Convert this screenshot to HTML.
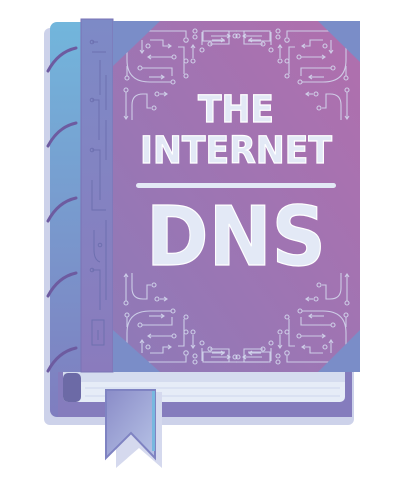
<!DOCTYPE html>
<html><head><style>html,body{margin:0;padding:0;background:#fff;}svg{display:block}</style></head>
<body>
<svg width="400" height="494" viewBox="0 0 400 494" xmlns="http://www.w3.org/2000/svg">
<defs>
<linearGradient id="cov" x1="1" y1="0" x2="0" y2="1">
<stop offset="0" stop-color="#b16fad"/><stop offset="1" stop-color="#8d7ab8"/></linearGradient>
<linearGradient id="back" x1="0" y1="0" x2="0" y2="1">
<stop offset="0" stop-color="#72b6dc"/><stop offset="1" stop-color="#7f7dbf"/></linearGradient>
<linearGradient id="spine" x1="0" y1="0" x2="0" y2="1">
<stop offset="0" stop-color="#7d8ac6"/><stop offset="1" stop-color="#8a7bbd"/></linearGradient>
<linearGradient id="bm" x1="0" y1="0" x2="1" y2="1">
<stop offset="0" stop-color="#8a8cc8"/><stop offset="1" stop-color="#b7c3e6"/></linearGradient>
<g id="circ" fill="none" stroke="#d6dcf0" stroke-width="1.1" opacity="0.85">
<path d="M128 31 H186 V37"/><circle cx="186" cy="40" r="2.2"/>
<path d="M150 40 H163 V46 H170"/><path d="M168 44 l3 2 -3 2"/>
<circle cx="148" cy="46" r="2"/><path d="M142 40 V52"/><path d="M140 50 l2 3 2 -3"/>
<path d="M149 57 H172"/><path d="M151 55 l-3 2 3 2"/><circle cx="174" cy="57" r="2"/>
<path d="M178 47 H184 V74"/><circle cx="186" cy="76" r="2"/>
<circle cx="186" cy="61" r="2"/><circle cx="193" cy="61" r="2"/><path d="M193 58 V45"/><path d="M191 48 l2 -3 2 3"/>
<circle cx="140" cy="68" r="2"/><path d="M142 68 H172 V76"/>
<path d="M127 45 V60 Q127 82 150 82 H171"/><circle cx="173" cy="82" r="2"/>
<path d="M149 77 H163"/><path d="M161 75 l3 2 -3 2"/>
<path d="M127 66 V76"/><circle cx="127" cy="78" r="2"/>
<path d="M126 92 V118"/><circle cx="126" cy="90" r="2"/><path d="M124 116 l2 3 2 -3"/>
<path d="M132 120 V105 Q132 94 143 94 H147 V108 H151"/><circle cx="154" cy="108" r="2"/>
<circle cx="157" cy="94" r="2"/><path d="M160 94 H166"/><path d="M164 92 l3 2 -3 2"/>
<path d="M202 32 V45"/><circle cx="202" cy="50" r="2"/>
<path d="M205 31 H229 V44 H210"/><path d="M212 40 H223"/><path d="M221 38 l3 2 -3 2"/><circle cx="210" cy="44" r="2"/>
<path d="M236 31 H270 V41 H248"/><circle cx="238" cy="36" r="2"/><path d="M244 36 H262"/><path d="M246 34 l-3 2 3 2"/>
<circle cx="278" cy="31" r="2"/><circle cx="278" cy="37" r="2"/>
</g>
</defs>
<!-- back shadow -->
<rect x="44" y="28" width="310" height="397" rx="6" fill="#cdd2ea"/>
<!-- back cover -->
<rect x="50" y="22" width="302" height="395" rx="7" fill="url(#back)"/>
<rect x="58" y="372" width="294" height="45" fill="#857cbd"/>
<!-- pages -->
<rect x="63" y="372" width="282" height="30" rx="5" fill="#e6ecf7"/>
<rect x="63" y="372" width="282" height="10" fill="#d5dcef"/>
<path d="M85 388 H340 M85 396 H340" stroke="#cdd6ec" stroke-width="1"/>
<rect x="63" y="373" width="18" height="29" rx="5" fill="#6c6aa6"/>
<!-- spine ridges -->
<g stroke="#6d5ba0" stroke-width="3" fill="none" stroke-linecap="round">
<path d="M48 71 Q58 52 76 48"/><path d="M48 146 Q58 127 76 123"/><path d="M48 221 Q58 202 76 198"/>
<path d="M48 296 Q58 277 76 273"/><path d="M48 371 Q58 352 76 348"/>
</g>
<!-- spine -->
<rect x="81" y="19" width="32" height="353" fill="url(#spine)"/>
<rect x="81" y="19" width="32" height="353" fill="none" stroke="#7a73b5" stroke-width="1"/>
<g fill="none" stroke="#6b6eae" stroke-width="1" opacity="0.9">
<path d="M92 42 H98 M92 52 H106 M100 60 V95 M106 75 V110 M92 100 H99 V140 M106 120 V160 M92 150 H100 V200 M92 180 V210 H106 M94 230 V250 Q94 260 100 262 M106 220 V300 M92 270 H100 V310 M92 320 H104 V345 H92 Z M98 330 V340"/>
<circle cx="92" cy="42" r="1.8"/><circle cx="92" cy="100" r="1.8"/><circle cx="92" cy="150" r="1.8"/><circle cx="100" cy="245" r="1.8"/><circle cx="92" cy="270" r="1.8"/>
</g>
<!-- cover -->
<rect x="113" y="21" width="247" height="351" fill="url(#cov)"/>
<use href="#circ"/>
<use href="#circ" transform="translate(473 0) scale(-1 1)"/>
<use href="#circ" transform="translate(0 393) scale(1 -1)"/>
<use href="#circ" transform="translate(473 393) scale(-1 -1)"/>
<!-- corners -->
<g fill="#7a8dc8">
<polygon points="113,21 160,21 113,66"/>
<polygon points="360,21 318,21 360,62"/>
<polygon points="113,372 160,372 113,330"/>
<polygon points="360,372 318,372 360,330"/>
</g>
<!-- text -->
<g font-family="'DejaVu Sans', 'Liberation Sans', sans-serif" font-weight="bold" fill="#e3e9f6" stroke="#fff" stroke-width="1.2" text-anchor="middle">
<text x="236" y="122" font-size="37" textLength="76" lengthAdjust="spacingAndGlyphs">THE</text>
<text x="236" y="163" font-size="37" textLength="192" lengthAdjust="spacingAndGlyphs">INTERNET</text>
<text x="236" y="265" font-size="82" textLength="180" lengthAdjust="spacingAndGlyphs">DNS</text>
</g>
<rect x="136" y="183" width="200" height="5" rx="2.5" fill="#e3e9f6"/>
<!-- bookmark -->
<polygon points="116,392 162,392 162,468 139,448 116,468" fill="#d5d9ee"/>
<polygon points="106,390 155,390 155,458 131,433 106,458" fill="url(#bm)" stroke="#7f83c2" stroke-width="2"/>
<rect x="152" y="391" width="3" height="60" fill="#78b8df"/>
</svg>
</body></html>
